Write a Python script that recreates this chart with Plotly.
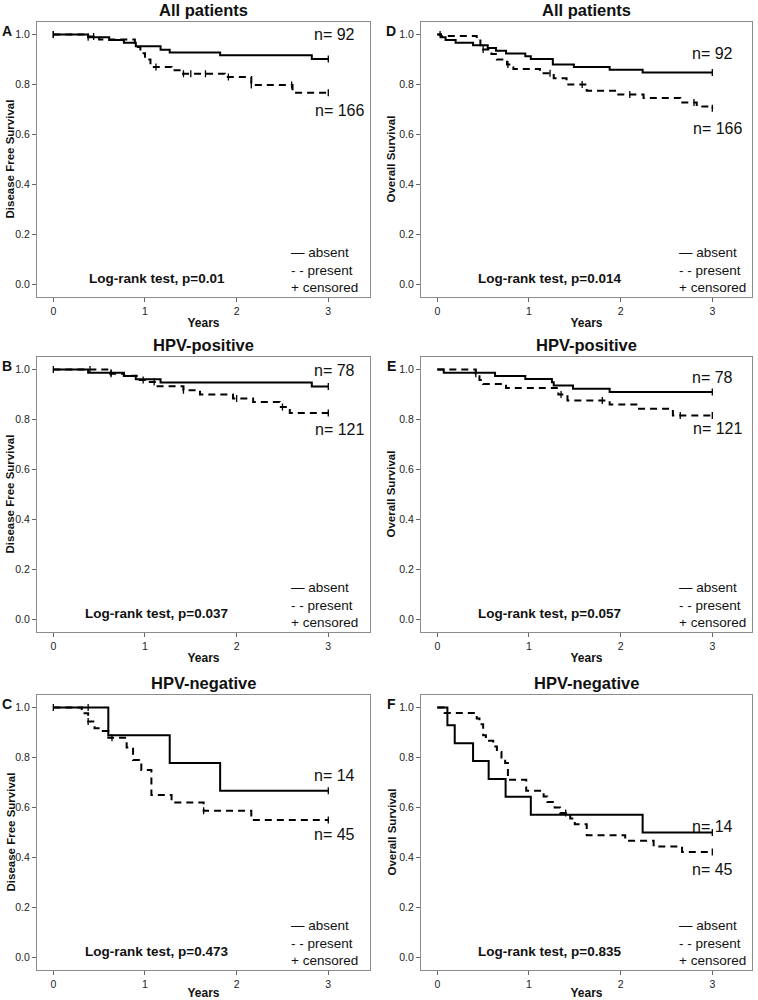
import numpy as np
import plotly.graph_objects as go

# ---- values ----
YEAR_TICKS = [0, 1, 2, 3]
SURV_TICKS = [0.0, 0.2, 0.4, 0.6, 0.8, 1.0]

# A: disease free survival, all patients
a_absent_t = [0, 0.38, 0.61, 0.77, 0.90, 1.17, 1.27, 1.82, 2.82, 3.0]
a_absent_s = [1.0, 0.989, 0.978, 0.967, 0.953, 0.939, 0.928, 0.917, 0.902, 0.902]
a_absent_cens = [0.0, 0.38, 3.0]
a_present_t = [0, 0.35, 0.50, 0.89, 0.95, 1.00, 1.06, 1.29, 1.40, 1.87, 2.16, 2.61, 3.0]
a_present_s = [1.0, 0.992, 0.980, 0.950, 0.925, 0.900, 0.870, 0.857, 0.843, 0.830, 0.798, 0.767, 0.767]
a_present_cens = [0.0, 0.44, 1.12, 1.42, 1.50, 1.66, 1.91, 2.16, 2.60, 3.0]

# D: overall survival, all patients
d_absent_t = [0, 0.04, 0.09, 0.20, 0.39, 0.55, 0.64, 0.75, 0.96, 1.02, 1.26, 1.49, 1.88, 2.24, 3.0]
d_absent_s = [1.0, 0.989, 0.978, 0.967, 0.957, 0.946, 0.935, 0.924, 0.913, 0.902, 0.880, 0.870,
              0.859, 0.848, 0.848]
d_absent_cens = [3.0]
d_present_t = [0, 0.04, 0.43, 0.47, 0.50, 0.59, 0.65, 0.76, 0.83, 1.12, 1.27, 1.41, 1.63, 1.96,
               2.25, 2.65, 2.83, 3.0]
d_present_s = [1.0, 0.994, 0.976, 0.957, 0.940, 0.922, 0.900, 0.880, 0.862, 0.845, 0.825, 0.800,
               0.775, 0.760, 0.746, 0.728, 0.712, 0.705]
d_present_cens = [0.03, 0.50, 0.77, 1.23, 1.58, 2.10, 2.80, 3.0]

# B: disease free survival, HPV-positive
b_absent_t = [0, 0.38, 0.77, 0.90, 1.17, 2.82, 3.0]
b_absent_s = [1.0, 0.987, 0.974, 0.961, 0.948, 0.932, 0.932]
b_absent_cens = [0.0, 0.63, 3.0]
b_present_t = [0, 0.62, 0.77, 0.91, 1.02, 1.12, 1.42, 1.60, 1.96, 2.18, 2.47, 2.58, 3.0]
b_present_s = [1.0, 0.983, 0.975, 0.958, 0.950, 0.933, 0.917, 0.900, 0.884, 0.870, 0.850, 0.826, 0.826]
b_present_cens = [0.40, 0.63, 0.98, 1.10, 1.42, 2.00, 2.50, 3.0]

# E: overall survival, HPV-positive
e_absent_t = [0, 0.07, 0.63, 0.96, 1.25, 1.27, 1.48, 1.88, 3.0]
e_absent_s = [1.0, 0.987, 0.974, 0.962, 0.949, 0.936, 0.923, 0.910, 0.910]
e_absent_cens = [3.0]
e_present_t = [0, 0.42, 0.46, 0.50, 0.75, 1.32, 1.42, 1.88, 2.20, 2.57, 3.0]
e_present_s = [1.0, 0.983, 0.958, 0.942, 0.926, 0.900, 0.876, 0.860, 0.843, 0.816, 0.816]
e_present_cens = [0.42, 1.35, 1.80, 2.65, 3.0]

# C: disease free survival, HPV-negative
c_absent_t = [0, 0.60, 1.27, 1.82, 3.0]
c_absent_s = [1.0, 0.889, 0.778, 0.667, 0.667]
c_absent_cens = [0.0, 0.38, 3.0]
c_present_t = [0, 0.31, 0.38, 0.45, 0.51, 0.60, 0.80, 0.87, 0.96, 1.07, 1.29, 1.64, 2.16, 3.0]
c_present_s = [1.0, 0.977, 0.944, 0.917, 0.906, 0.879, 0.840, 0.790, 0.750, 0.650, 0.620, 0.587,
               0.550, 0.550]
c_present_cens = [0.38, 0.64, 1.64, 3.0]

# F: overall survival, HPV-negative
f_absent_t = [0, 0.11, 0.19, 0.39, 0.56, 0.745, 1.02, 2.24, 3.0]
f_absent_s = [1.0, 0.929, 0.857, 0.786, 0.714, 0.643, 0.571, 0.500, 0.500]
f_absent_cens = [3.0]
f_present_t = [0, 0.08, 0.43, 0.46, 0.50, 0.53, 0.61, 0.65, 0.70, 0.74, 0.77, 0.97, 1.16, 1.20,
               1.28, 1.34, 1.45, 1.50, 1.63, 2.05, 2.36, 2.67, 3.0]
f_present_s = [1.0, 0.978, 0.956, 0.933, 0.889, 0.867, 0.844, 0.822, 0.800, 0.778, 0.711, 0.667,
               0.644, 0.622, 0.600, 0.578, 0.556, 0.533, 0.489, 0.467, 0.444, 0.422, 0.422]
f_present_cens = [1.40, 3.0]

panel_letters = ["A", "D", "B", "E", "C", "F"]
panel_titles = ["All patients", "All patients", "HPV-positive", "HPV-positive",
                "HPV-negative", "HPV-negative"]
y_titles = ["Disease Free Survival", "Overall Survival"] * 3
logrank_texts = ["Log-rank test, p=0.01", "Log-rank test, p=0.014", "Log-rank test, p=0.037",
                 "Log-rank test, p=0.057", "Log-rank test, p=0.473", "Log-rank test, p=0.835"]
n_absent = ["n= 92", "n= 92", "n= 78", "n= 78", "n= 14", "n= 14"]
n_present = ["n= 166", "n= 166", "n= 121", "n= 121", "n= 45", "n= 45"]

curves = [
    (a_absent_t, a_absent_s, a_absent_cens, a_present_t, a_present_s, a_present_cens),
    (d_absent_t, d_absent_s, d_absent_cens, d_present_t, d_present_s, d_present_cens),
    (b_absent_t, b_absent_s, b_absent_cens, b_present_t, b_present_s, b_present_cens),
    (e_absent_t, e_absent_s, e_absent_cens, e_present_t, e_present_s, e_present_cens),
    (c_absent_t, c_absent_s, c_absent_cens, c_present_t, c_present_s, c_present_cens),
    (f_absent_t, f_absent_s, f_absent_cens, f_present_t, f_present_s, f_present_cens),
]

# ---- layout (pixels of the 758x1000 page) ----
W, H = 758, 1000
FONT = "Liberation Sans, Arial, sans-serif"
COL_X = [(37, 370), (421, 752)]
Y_TITLE_X = [10, 391]
ROW_TOP = [22, 357, 695]
BOX_H = 275
X_RANGE = [(-0.178, 3.455), (-0.178, 3.433)]
Y_RANGE = [-0.05, 1.05]

# where the n= labels sit (x, y in data units)
n_abs_pos = [(3.31, 1.0), (3.25, 0.925), (3.31, 0.998), (3.25, 0.969), (3.31, 0.728), (3.25, 0.523)]
n_pre_pos = [(3.41, 0.696), (3.345, 0.624), (3.41, 0.761), (3.345, 0.766), (3.31, 0.493), (3.25, 0.352)]


def surv_at(t, s, when):
    idx = np.searchsorted(np.asarray(t), np.asarray(when), side="right") - 1
    return np.asarray(s)[np.clip(idx, 0, len(s) - 1)]


fig = go.Figure()
annotations = []

for i, (at, as_, ac, pt, ps, pc) in enumerate(curves):
    row, col = divmod(i, 2)
    k = "" if i == 0 else str(i + 1)
    xa, ya = "x" + k, "y" + k

    for t, s, cens, dash in ((at, as_, ac, "solid"), (pt, ps, pc, "7px,5px")):
        fig.add_trace(go.Scatter(
            x=t, y=s, mode="lines", line=dict(color="black", width=2, dash=dash, shape="hv"),
            xaxis=xa, yaxis=ya, showlegend=False, hoverinfo="skip"))
        fig.add_trace(go.Scatter(
            x=cens, y=surv_at(t, s, cens), mode="markers",
            marker=dict(symbol="line-ns-open", size=5, color="black",
                        line=dict(color="black", width=1.3)),
            xaxis=xa, yaxis=ya, showlegend=False, hoverinfo="skip"))

    x0, x1 = COL_X[col]
    top = ROW_TOP[row]
    bot = top + BOX_H
    axis_common = dict(showline=True, mirror=True, linecolor="#8c8c8c", linewidth=1.2,
                       ticks="outside", ticklen=4, tickcolor="#666", showgrid=False,
                       zeroline=False, tickfont=dict(family=FONT, size=10.5, color="#222"),
                       fixedrange=True, automargin=False)
    fig.layout["xaxis" + k] = dict(
        axis_common, domain=[x0 / W, x1 / W], range=X_RANGE[col], anchor=ya,
        tickvals=YEAR_TICKS,
        title=dict(text="Years", standoff=2, font=dict(family=FONT, size=12, weight="bold",
                                                        color="#111")))
    fig.layout["yaxis" + k] = dict(
        axis_common, domain=[1 - bot / H, 1 - top / H], range=Y_RANGE, anchor=xa,
        tickvals=SURV_TICKS, tickformat=".1f")

    # y title placed by hand so it sits where the original has it
    annotations.append(dict(
        text=y_titles[i], xref="paper", yref="paper", x=Y_TITLE_X[col] / W,
        y=1 - (top + bot) / 2 / H, xanchor="center", yanchor="middle", textangle=-90,
        showarrow=False, font=dict(family=FONT, size=11.5, weight="bold", color="#111")))

    # panel title and letter
    annotations.append(dict(
        text=panel_titles[i], xref="paper", yref="paper", x=(x0 + x1) / 2 / W,
        y=1 - (top - 12) / H, xanchor="center", yanchor="middle", showarrow=False,
        font=dict(family=FONT, size=16.5, weight="bold", color="#111")))
    annotations.append(dict(
        text=panel_letters[i], xref="paper", yref="paper", x=(x0 - 30) / W,
        y=1 - (top + 9) / H, xanchor="center", yanchor="middle", showarrow=False,
        font=dict(family=FONT, size=14, weight="bold", color="#111")))

    # n labels
    for (nx, ny), txt in ((n_abs_pos[i], n_absent[i]), (n_pre_pos[i], n_present[i])):
        annotations.append(dict(
            text=txt, xref=xa, yref=ya, x=nx, y=ny, xanchor="right", yanchor="middle",
            showarrow=False, font=dict(family=FONT, size=16, color="#111")))

    # log-rank text and key
    annotations.append(dict(
        text=logrank_texts[i], xref=xa, yref=ya, x=1.13 if col == 0 else 1.22, y=0.025,
        xanchor="center", yanchor="middle", showarrow=False,
        font=dict(family=FONT, size=13.5, weight="bold", color="#111")))
    annotations.append(dict(
        text="\u2014 absent<br>- - present<br>+ censored", xref=xa, yref=ya,
        x=2.57 if col == 0 else 2.61, y=0.06, xanchor="left", yanchor="middle", align="left",
        showarrow=False, font=dict(family=FONT, size=13.5, color="#111")))

fig.update_layout(
    width=W, height=H, margin=dict(l=0, r=0, t=0, b=0),
    paper_bgcolor="white", plot_bgcolor="white", annotations=annotations,
    showlegend=False)

# the page body keeps an 8px default margin; drop it so the figure sits at (0, 0)
fig.write_html("out.html", config={"displayModeBar": False},
               post_script="document.body.style.margin='0';document.body.style.overflow='hidden';")
